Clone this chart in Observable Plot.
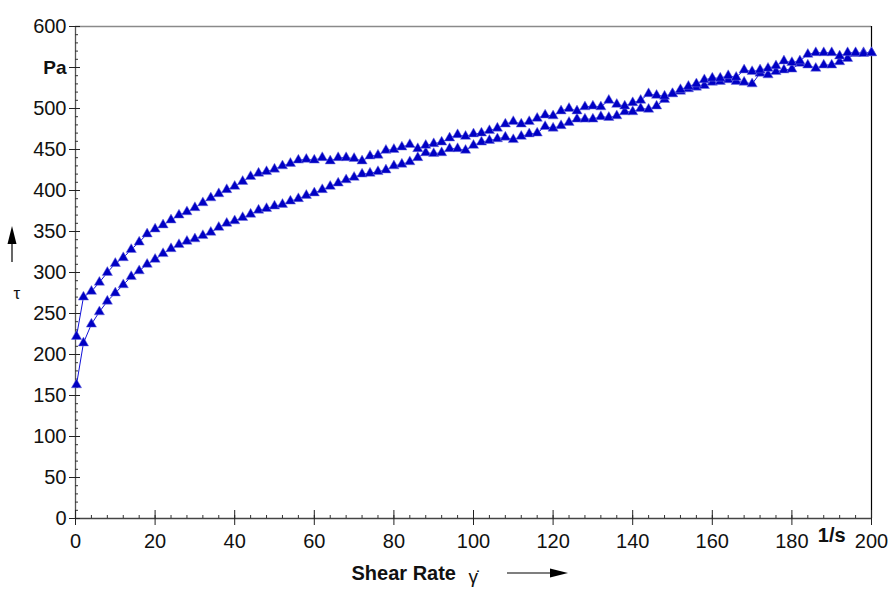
<!DOCTYPE html>
<html><head><meta charset="utf-8">
<script src="https://cdn.jsdelivr.net/npm/d3@7"></script>
<script src="https://cdn.jsdelivr.net/npm/@observablehq/plot@0.6"></script>
<style>body{margin:0;background:#fff} #chart svg{display:block}</style>
</head><body><div id="chart"></div>
<script>
// Shear rate grid (1/s)
const shearRate = [0.25,2,4,6,8,10,12,14,16,18,20,22,24,26,28,30,32,34,36,38,40,42,44,46,48,50,52,54,56,58,60,62,64,66,68,70,72,74,76,78,80,82,84,86,88,90,92,94,96,98,100,102,104,106,108,110,112,114,116,118,120,122,124,126,128,130,132,134,136,138,140,142,144,146,148,150,152,154,156,158,160,162,164,166,168,170,172,174,176,178,180,182,184,186,188,190,192,194,196,198,200];
// Shear stress, up curve (Pa)
const tauUp = [163,214,237,252,265,275,285,295,302,310,
  316,323,329,334,338,341,345,349,355,360,
  363,367,371,376,378,381,383,387,390,394,
  397,401,405,409,413,416,420,421,423,425,
  430,432,435,440,446,445,446,451,451,449,
  455,459,461,463,465,462,466,469,470,478,
  476,479,483,487,487,487,490,489,491,496,
  496,500,499,503,511,518,521,524,526,528,
  532,533,535,533,532,530,543,541,545,547,
  548,555,553,549,553,553,557,561,567,568,
  568];
// Shear stress, down curve (Pa)
const tauDown = [222,270,277,288,300,311,318,328,337,347,
  353,358,364,370,374,379,385,391,396,401,
  405,411,417,421,423,426,430,433,437,438,
  437,440,436,440,440,439,436,442,443,449,
  450,453,456,451,455,457,459,464,468,466,
  469,470,473,476,481,484,481,484,488,492,
  491,497,500,497,502,503,502,510,505,503,
  507,510,518,516,515,518,523,527,530,535,
  537,537,540,538,547,545,547,549,552,558,
  556,558,566,568,568,568,564,568,568,567,
  568];

const yTicks = [0,50,100,150,200,250,300,350,400,450,500,600];
const yUnitTick = 550, yUnit = "Pa";
const xTicks = [0,20,40,60,80,100,120,140,160,180,200];
const xUnitPos = 190, xUnit = "1/s";
const xTitle = "Shear Rate", xSymbol = "γ\u0307", ySymbol = "τ";
const yMinorStep = 10, xMinorStep = 4, yMajorStep = 50, xMajorStep = 20;

const W = 892, H = 595, mL = 75, mR = 21, mT = 26, mB = 77;
const pw = W - mL - mR, ph = H - mT - mB;

const up = shearRate.map((x, i) => ({x, y: tauUp[i]}));
const down = shearRate.map((x, i) => ({x, y: tauDown[i]}));

const font = "'Liberation Sans', Arial, Helvetica, sans-serif";
const blue = "#0000c4";

const plot = Plot.plot({
  width: W, height: H,
  marginLeft: mL, marginRight: mR, marginTop: mT, marginBottom: mB,
  style: {fontFamily: font, fontSize: "20px", color: "#111", background: "#fff", overflow: "visible"},
  x: {domain: [0, 200]},
  y: {domain: [0, 600]},
  marks: [
    Plot.ruleY([600], {stroke: "#8a8a8a", strokeWidth: 1.5}),
    Plot.ruleX([200], {stroke: "#000", strokeWidth: 1.2}),
    Plot.ruleX([0], {stroke: "#555", strokeWidth: 1.3}),
    Plot.ruleY([0], {stroke: "#444", strokeWidth: 1.3}),
    // minor & major ticks
    Plot.tickY(d3.range(0, 601, yMinorStep), {y: d => d, insetRight: pw - 3, stroke: "#333"}),
    Plot.tickY(d3.range(0, 601, yMajorStep), {y: d => d, insetLeft: -6, insetRight: pw - 5, stroke: "#222"}),
    Plot.tickX(d3.range(0, 201, xMinorStep), {x: d => d, insetTop: ph - 3, stroke: "#333"}),
    Plot.tickX(d3.range(0, 201, xMajorStep), {x: d => d, insetTop: ph - 8, insetBottom: -7, stroke: "#222"}),
    // tick labels
    Plot.axisY({ticks: yTicks, tickSize: 0, tickPadding: 9, label: null, fontSize: 20}),
    Plot.axisX({ticks: xTicks, tickSize: 0, tickPadding: 15, label: null, fontSize: 20}),
    Plot.text([yUnitTick], {y: d => d, text: () => yUnit, frameAnchor: "left", dx: -9, textAnchor: "end", fontWeight: "bold", fontSize: 19}),
    Plot.text([xUnitPos], {x: d => d, text: () => xUnit, frameAnchor: "bottom", dy: 23, fontWeight: "bold", fontSize: 20}),
    // axis titles
    Plot.text([xTitle], {text: d => d, frameAnchor: "bottom-left", dx: 276, dy: 61, textAnchor: "start", fontWeight: "bold", fontSize: 20}),
    Plot.text([xSymbol], {text: d => d, frameAnchor: "bottom-left", dx: 393, dy: 64, fontSize: 19}),
    Plot.text([ySymbol], {text: d => d, frameAnchor: "left", dx: -62, dy: 21, fontSize: 17}),
    // data
    Plot.line(up, {x: "x", y: "y", stroke: "#1010d8", strokeWidth: 1}),
    Plot.line(down, {x: "x", y: "y", stroke: "#1010d8", strokeWidth: 1}),
    Plot.dot(up, {x: "x", y: "y", symbol: "triangle", r: 3.8, fill: blue, stroke: "#7070e0", strokeWidth: 0.5}),
    Plot.dot(down, {x: "x", y: "y", symbol: "triangle", r: 3.8, fill: blue, stroke: "#7070e0", strokeWidth: 0.5})
  ]
});

const svg = d3.select(plot);
// vertical arrow beside τ
svg.append("line").attr("x1", 12).attr("x2", 12).attr("y1", 262).attr("y2", 240).attr("stroke", "#000").attr("stroke-width", 1.2);
svg.append("path").attr("d", "M12,226L7.5,244L16.5,244Z").attr("fill", "#000");
// horizontal arrow after Shear Rate
svg.append("line").attr("x1", 507).attr("x2", 552).attr("y1", 573).attr("y2", 573).attr("stroke", "#000").attr("stroke-width", 1.2);
svg.append("path").attr("d", "M568,573L550,568.5L550,577.5Z").attr("fill", "#000");

document.getElementById("chart").appendChild(plot);
</script>
</body></html>
